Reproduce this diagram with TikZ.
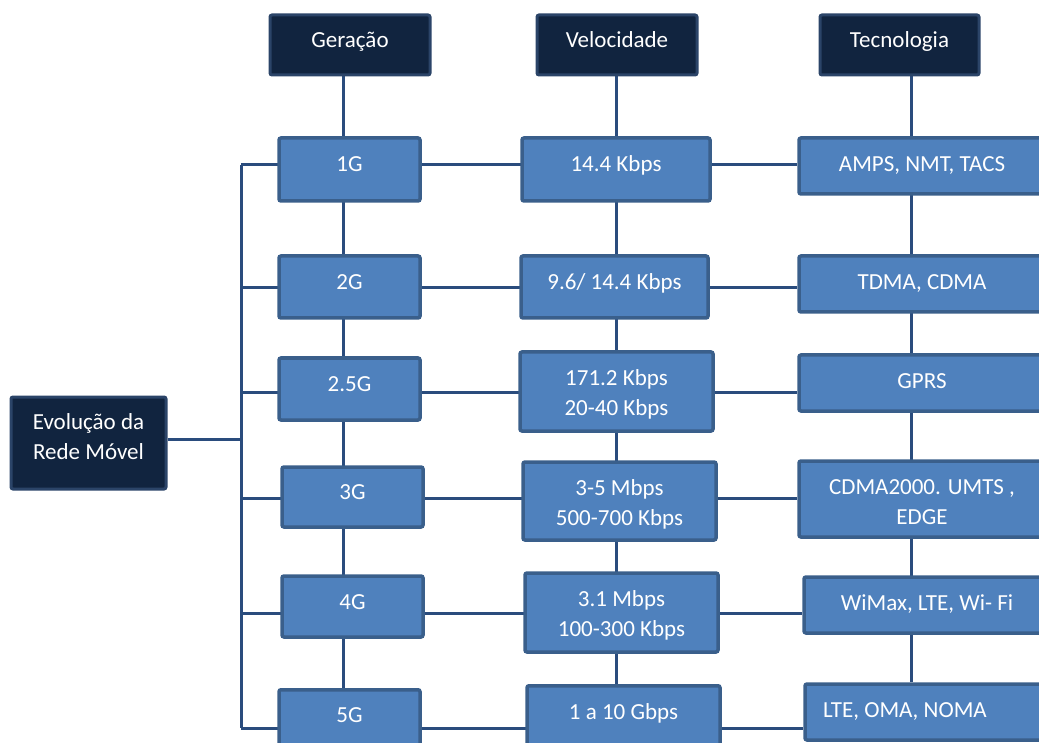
\documentclass[tikz,border=0pt]{standalone}
\usepackage{fontspec}
\setmainfont{Carlito}
\usetikzlibrary{backgrounds}
\definecolor{navy}{HTML}{11243F}
\definecolor{navyline}{HTML}{2B4468}
\definecolor{boxfill}{HTML}{4F81BD}
\definecolor{boxline}{HTML}{3A5F8B}
\definecolor{conn}{HTML}{2A4C7D}
\begin{document}
\begin{tikzpicture}[x=1pt,y=-1pt,
  every node/.style={font=\fontsize{23}{30}\selectfont, text=white, inner sep=0pt},
  hbox/.style={draw=navyline, fill=navy, line width=3pt, rounded corners=2pt},
  lbox/.style={draw=boxline, fill=boxfill, line width=3.5pt, rounded corners=2pt},
  one/.style={text height=16pt, text depth=11pt},
  onet/.style={text height=18pt, text depth=7pt},
  two/.style={align=center, text height=52pt, text depth=3.2pt},
  link/.style={draw=conn, line width=3pt}]
\useasboundingbox (0,0) rectangle (1039,743);
\clip (0,0) rectangle (1039,743);
% headers
\node[hbox, one, minimum width=160, minimum height=60] (hg) at (350,45) {Geração};
\node[hbox, one, minimum width=160, minimum height=60] (hv) at (617,45) {Velocidade};
\node[hbox, one, minimum width=159, minimum height=60] (ht) at (899.5,45) {Tecnologia};
\node[hbox, align=center, text height=37pt, text depth=3.2pt, minimum width=155, minimum height=92] (ev) at (88.5,443) {Evolução da\\Rede Móvel};
% generation column
\node[lbox, one, minimum width=141, minimum height=63] (g1) at (349.5,169.5) {1G};
\node[lbox, one, minimum width=141, minimum height=62] (g2) at (349.5,287) {2G};
\node[lbox, one, minimum width=141, minimum height=62] (g25) at (349.5,389) {2.5G};
\node[lbox, one, minimum width=141, minimum height=60] (g3) at (352.5,497) {3G};
\node[lbox, one, minimum width=141, minimum height=61] (g4) at (352.5,606.5) {4G};
\node[lbox, anchor=north, minimum width=141, minimum height=72, inner ysep=16.4pt, text height=16pt, text depth=23.2pt] (g5) at (349.5,688) {5G};
% speed column
\node[lbox, one, minimum width=188, minimum height=63] (v1) at (616,169.5) {14.4 Kbps};
\node[lbox, one, minimum width=187, minimum height=62] (v2) at (614.5,287) {9.6/ 14.4 Kbps};
\node[lbox, two, minimum width=193, minimum height=79] (v25) at (616.5,391.5) {171.2 Kbps\\20-40 Kbps};
\node[lbox, two, minimum width=193, minimum height=78] (v3) at (619.5,501) {3-5 Mbps\\500-700 Kbps};
\node[lbox, two, minimum width=193, minimum height=79] (v4) at (621.5,612.5) {3.1 Mbps\\100-300 Kbps};
\node[lbox, anchor=north, minimum width=193, minimum height=76, inner ysep=17.4pt, text height=16pt, text depth=25.2pt] (v5) at (623.5,684) {1 a 10 Gbps};
% technology column
\node[lbox, onet, minimum width=246, minimum height=56] (t1) at (922,166) {AMPS, NMT, TACS};
\node[lbox, onet, minimum width=246, minimum height=56] (t2) at (922,284) {TDMA, CDMA};
\node[lbox, onet, minimum width=246, minimum height=56] (t25) at (922,383) {GPRS};
\node[lbox, two, text height=54pt, minimum width=246, minimum height=76] (t3) at (922,499) {CDMA2000. UMTS ,\\EDGE};
\node[lbox, onet, minimum width=246, minimum height=56] (t4) at (927,605) {WiMax, LTE, Wi- Fi};
\node[lbox, onet, inner xsep=18pt, minimum height=56] (t5) at (927.5,712) {\makebox[209pt][l]{LTE, OMA, NOMA}};
% coordinates
\coordinate (c1) at (343,0);
\coordinate (c2) at (616,0);
\coordinate (c3) at (911,0);
\coordinate (b1) at (241,165);
\coordinate (b2) at (241,288);
\coordinate (b3) at (241,392);
\coordinate (b4) at (241,498);
\coordinate (b5) at (241,613);
\coordinate (b6) at (241,728);
\coordinate (bl) at (241,439);
\begin{scope}[on background layer]
  \path[link] (hg.south -| c1) -- (g5.north -| c1);
  \path[link] (hv.south -| c2) -- (v5.north -| c2);
  \path[link] (ht.south -| c3) -- (t5.north -| c3);
  \path[link] (b1) -- (b6);
  \path[link] (ev.east |- bl) -- (bl);
  \path[link] (b1) -- (t1.west |- b1);
  \path[link] (b2) -- (t2.west |- b2);
  \path[link] (b3) -- (t25.west |- b3);
  \path[link] (b4) -- (t3.west |- b4);
  \path[link] (b5) -- (t4.west |- b5);
  \path[link] (b6) -- (t5.west |- b6);
\end{scope}
\end{tikzpicture}
\end{document}
